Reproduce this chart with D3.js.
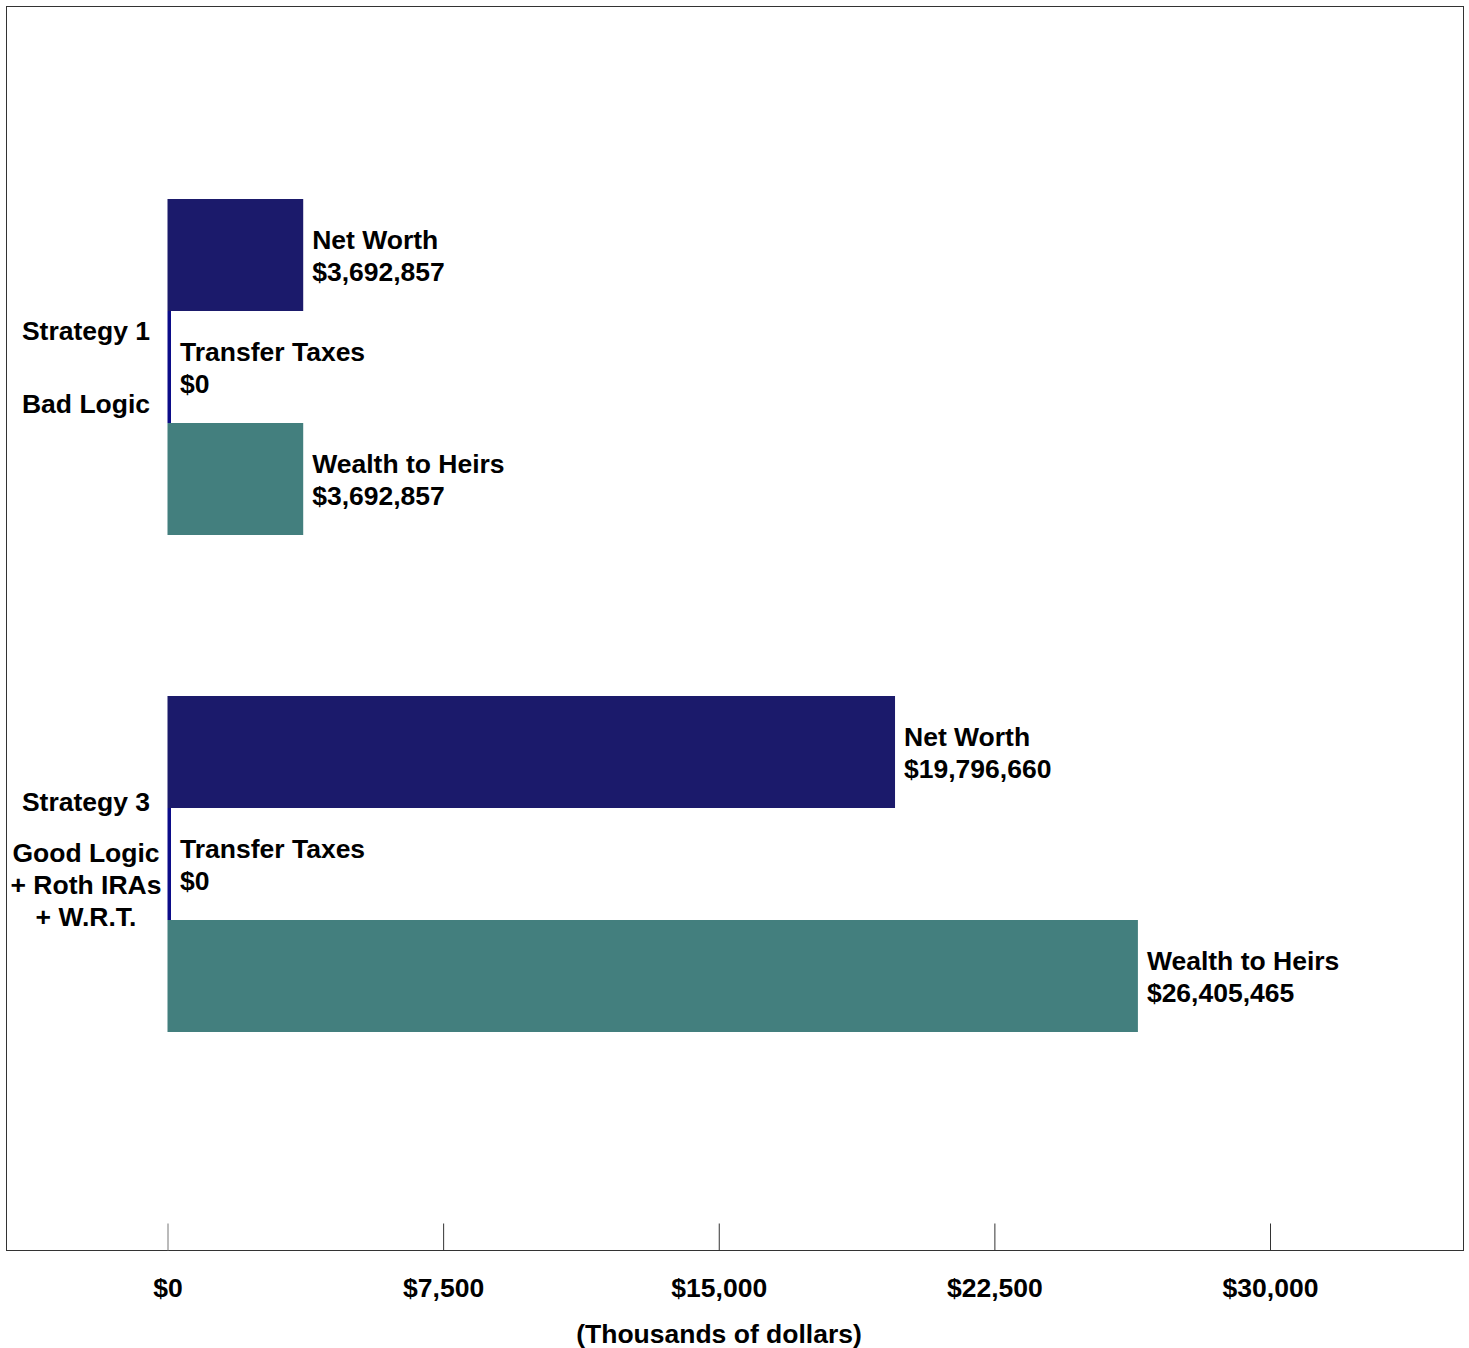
<!DOCTYPE html>
<html>
<head>
<meta charset="utf-8">
<script src="https://cdn.jsdelivr.net/npm/d3@7"></script>
<style>
  body { margin: 0; background: #fff; }
  text { font-family: "Liberation Sans", Arial, Helvetica, sans-serif; font-weight: bold; fill: #000; }
</style>
</head>
<body>
<svg id="chart" width="1469" height="1348"></svg>
<script>
// data (thousands of dollars)
var categories = ['Strategy 1', 'Strategy 3'];
var categoryLines = [
  ['Bad Logic'],
  ['Good Logic', '+ Roth IRAs', '+ W.R.T.']
];
var seriesNames = ['Net Worth', 'Transfer Taxes', 'Wealth to Heirs'];
var netWorth = [3692.857, 19796.660];
var transferTaxes = [0, 0];
var wealthToHeirs = [3692.857, 26405.465];
var valueLabels = [
  ['$3,692,857', '$0', '$3,692,857'],
  ['$19,796,660', '$0', '$26,405,465']
];
var tickValues = [0, 7500, 15000, 22500, 30000];
var axisTitle = '(Thousands of dollars)';

var seriesColors = ['#1b1a6b', '#0c0c88', '#437f7e'];
var headerGap = [73, 51];   // space between "Strategy n" and the description lines
var labelShift = [0, -5];   // nudge of the whole category label block

var svg = d3.select('#chart'),
    frame = { left: 6.5, top: 6.5, right: 1463.5, bottom: 1250.5 };

var x = d3.scaleLinear().domain([0, 30000]).range([167.5, 1270]);
var y = d3.scaleBand().domain(categories).range([118.5, 1112.5]).padding(0);
var bw = y.bandwidth();
var ySub = d3.scaleBand().domain(seriesNames)
  .range([bw / 2 - 168, bw / 2 + 168]).padding(0);

var rows = categories.map(function(c, i) {
  return {
    cat: c,
    vals: [netWorth[i], transferTaxes[i], wealthToHeirs[i]],
    labels: valueLabels[i],
    lines: categoryLines[i],
    gap: headerGap[i],
    shift: labelShift[i]
  };
});

// frame
svg.append('rect')
  .attr('x', frame.left).attr('y', frame.top)
  .attr('width', frame.right - frame.left)
  .attr('height', frame.bottom - frame.top)
  .attr('fill', 'none').attr('stroke', '#333').attr('stroke-width', 1);

// axis
var axis = d3.axisBottom(x)
  .tickValues(tickValues)
  .tickSizeInner(-27).tickSizeOuter(0)
  .tickPadding(28)
  .tickFormat(function(d) { return '$' + d3.format(',')(d); });

var gAxis = svg.append('g')
  .attr('transform', 'translate(0,' + frame.bottom + ')')
  .call(axis);
gAxis.select('.domain').remove();
gAxis.selectAll('.tick line').attr('stroke', function(d) { return d === 0 ? '#777' : '#333'; });
gAxis.selectAll('.tick text')
  .attr('font-size', 26.5)
  .style('font-family', '"Liberation Sans", Arial, sans-serif')
  .style('font-weight', 'bold')
  .attr('fill', '#000');

svg.append('text')
  .attr('x', (frame.left + frame.right) / 2 - 16)
  .attr('y', 1343)
  .attr('text-anchor', 'middle')
  .attr('font-size', 26.5)
  .text(axisTitle);

// groups
var groups = svg.selectAll('g.group')
  .data(rows)
  .enter().append('g')
  .attr('class', 'group')
  .attr('transform', function(d) { return 'translate(0,' + y(d.cat) + ')'; });

groups.each(function(row) {
  var g = d3.select(this);
  seriesNames.forEach(function(s, j) {
    var v = row.vals[j],
        y0 = ySub(s),
        w = Math.max(x(v) - x(0), 3.5);
    g.append('rect')
      .attr('x', x(0)).attr('y', y0)
      .attr('width', w).attr('height', ySub.bandwidth())
      .attr('fill', seriesColors[j]);
    var t = g.append('text')
      .attr('x', x(0) + w + 9)
      .attr('y', y0 + ySub.bandwidth() / 2)
      .attr('font-size', 26.5);
    t.append('tspan').attr('x', x(0) + w + 9).attr('dy', -6).text(s);
    t.append('tspan').attr('x', x(0) + w + 9).attr('dy', 32).text(row.labels[j]);
  });

  // category label block, centred on the group
  var lh = 32,
      blockH = row.gap + (row.lines.length - 1) * lh,
      top = bw / 2 - blockH / 2 + row.shift;
  g.append('text')
    .attr('x', 86).attr('y', top + 9)
    .attr('text-anchor', 'middle').attr('font-size', 26.5)
    .text(row.cat);
  row.lines.forEach(function(l, k) {
    g.append('text')
      .attr('x', 86).attr('y', top + row.gap + k * lh + 9)
      .attr('text-anchor', 'middle').attr('font-size', 26.5)
      .text(l);
  });
});
</script>
</body>
</html>
